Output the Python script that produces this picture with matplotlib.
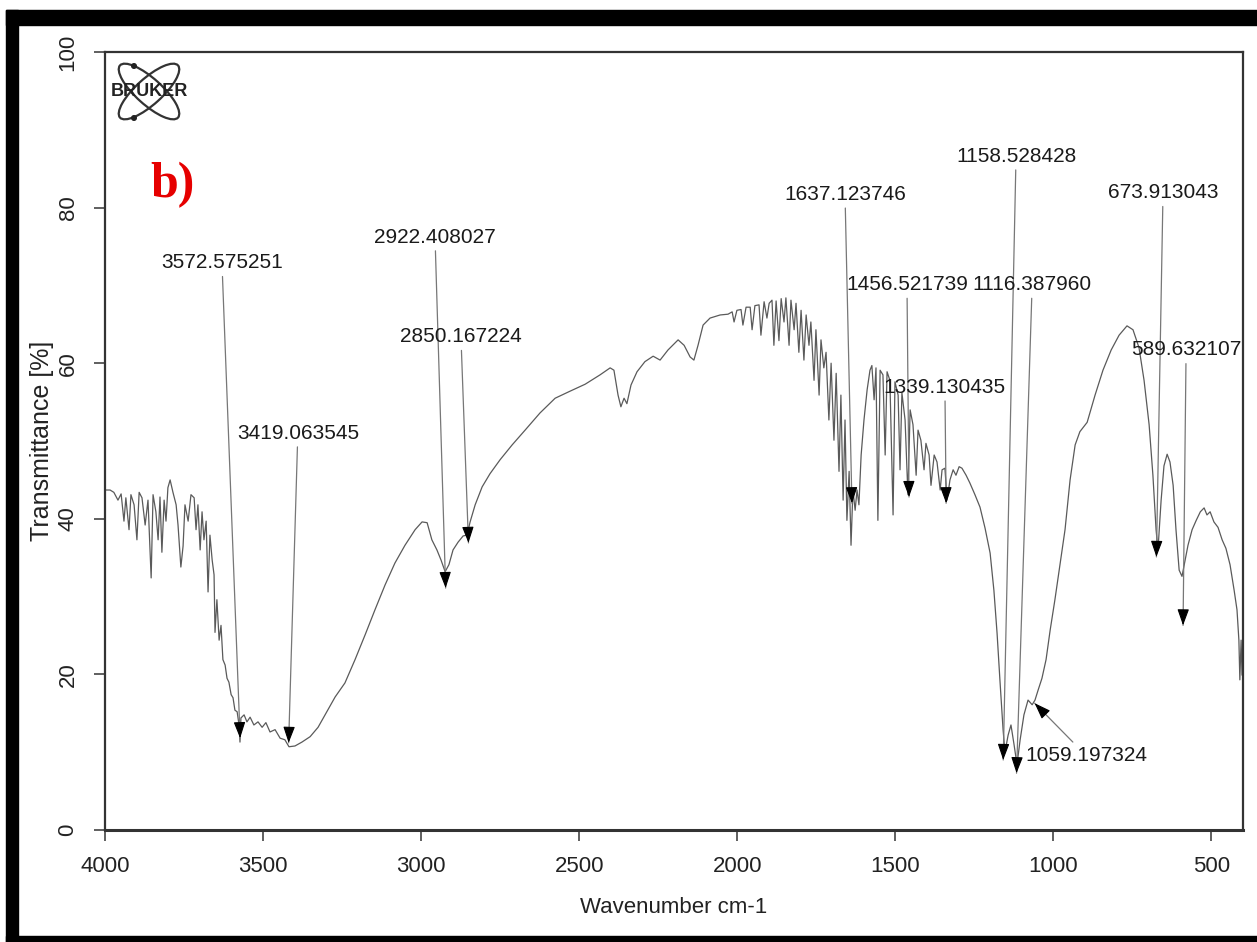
import matplotlib.pyplot as plt
from matplotlib.patches import Rectangle, Ellipse, Circle
import numpy as np

plt.rcParams['font.family'] = ['Liberation Sans', 'DejaVu Sans']

# FTIR spectrum (wavenumber cm-1, transmittance %)
wavenumber = [
    4000, 3984, 3972, 3959, 3949, 3940, 3934, 3924, 3918, 3908, 3899, 3892, 3883, 3873, 3864,
    3854, 3848, 3839, 3832, 3826, 3820, 3813, 3807, 3801, 3794, 3785, 3775, 3769, 3760, 3753,
    3747, 3737, 3728, 3718, 3712, 3706, 3699, 3693, 3687, 3680, 3674, 3668, 3661, 3655, 3652,
    3646, 3639, 3633, 3627, 3620, 3614, 3608, 3601, 3595, 3589, 3582, 3576, 3573, 3570, 3560,
    3551, 3541, 3529, 3516, 3503, 3491, 3478, 3462, 3446, 3431, 3418, 3399, 3377, 3351, 3326,
    3301, 3272, 3241, 3209, 3177, 3146, 3114, 3083, 3051, 3019, 2997, 2981, 2966, 2950, 2937,
    2924, 2912, 2899, 2883, 2867, 2855, 2845, 2829, 2807, 2782, 2750, 2712, 2671, 2624, 2576,
    2529, 2481, 2434, 2402, 2390, 2377, 2368, 2358, 2349, 2336, 2317, 2292, 2266, 2244, 2219,
    2187, 2168, 2149, 2137, 2124, 2108, 2086, 2054, 2029, 2016, 2010, 2001, 1988, 1982, 1972,
    1959, 1953, 1944, 1931, 1925, 1915, 1906, 1899, 1890, 1884, 1877, 1868, 1861, 1852, 1846,
    1836, 1830, 1820, 1814, 1805, 1798, 1789, 1782, 1773, 1767, 1757, 1751, 1741, 1735, 1726,
    1719, 1710, 1703, 1694, 1687, 1678, 1672, 1665, 1659, 1653, 1646, 1640, 1634, 1627, 1621,
    1615, 1608, 1599, 1589, 1580, 1574, 1567, 1561, 1555, 1548, 1539, 1532, 1526, 1517, 1507,
    1501, 1491, 1485, 1479, 1469, 1460, 1453, 1444, 1434, 1428, 1419, 1409, 1403, 1393, 1387,
    1377, 1368, 1358, 1352, 1343, 1336, 1327, 1317, 1308, 1298, 1289, 1276, 1264, 1248, 1232,
    1216, 1200, 1188, 1178, 1169, 1159, 1153, 1143, 1134, 1124, 1115, 1105, 1093, 1080, 1067,
    1058, 1048, 1036, 1023, 1010, 995, 979, 963, 947, 931, 916, 893, 868, 843, 817,
    792, 767, 748, 729, 713, 697, 685, 675, 669, 659, 650, 640, 631, 621, 612,
    602, 593, 583, 574, 561, 548, 535, 523, 514, 504, 492, 479, 466, 454, 441,
    428, 419, 413, 410, 406, 403, 400,
]
transmittance = [
    43.7, 43.7, 43.4, 42.4, 43.2, 39.7, 42.7, 38.6, 43.1, 41.8, 37.3, 43.4, 42.7, 39.2, 42.4,
    32.4, 43.1, 40.9, 37.3, 42.8, 35.7, 42.4, 39.7, 44.0, 45.0, 43.4, 41.8, 39.2, 33.8, 36.5,
    41.8, 39.7, 43.1, 42.7, 38.6, 41.8, 36.0, 40.9, 37.3, 39.7, 30.6, 37.9, 34.7, 32.8, 25.4,
    29.6, 24.4, 26.3, 21.9, 21.2, 19.5, 19.0, 17.4, 17.0, 15.4, 15.2, 13.5, 11.3, 14.4, 14.8,
    13.9, 14.5, 13.5, 13.9, 13.2, 13.8, 12.6, 12.9, 11.8, 11.6, 10.7, 10.8, 11.3, 12.0, 13.2,
    15.0, 17.1, 18.9, 21.9, 25.1, 28.3, 31.5, 34.3, 36.6, 38.6, 39.6, 39.5, 37.3, 36.0, 34.7,
    33.2, 34.1, 36.0, 37.0, 37.8, 37.9, 39.6, 41.8, 44.1, 45.8, 47.6, 49.5, 51.4, 53.6, 55.5,
    56.4, 57.3, 58.5, 59.4, 59.1, 55.9, 54.4, 55.5, 54.8, 57.2, 58.9, 60.2, 60.9, 60.4, 61.7,
    63.0, 62.3, 60.8, 60.4, 62.3, 64.9, 65.8, 66.2, 66.3, 66.6, 65.3, 66.8, 66.9, 64.9, 67.2,
    67.2, 64.3, 67.4, 67.5, 63.6, 67.9, 65.8, 67.7, 68.1, 62.3, 68.0, 62.9, 68.3, 65.3, 68.4,
    62.3, 68.1, 64.3, 67.7, 61.4, 66.8, 60.4, 66.2, 62.3, 65.3, 57.8, 64.3, 55.9, 63.0, 59.4,
    61.4, 52.7, 60.0, 50.1, 58.7, 46.1, 55.9, 42.4, 52.7, 39.8, 46.1, 36.6, 43.7, 41.1, 43.7,
    41.8, 48.2, 52.7, 56.6, 59.1, 59.7, 55.3, 59.4, 39.8, 59.1, 58.5, 48.2, 58.9, 57.8, 40.5,
    57.6, 55.9, 46.3, 56.2, 52.7, 43.1, 54.0, 52.1, 45.6, 51.4, 50.1, 46.3, 49.7, 48.2, 44.3,
    48.2, 47.3, 43.7, 46.3, 46.5, 42.4, 45.0, 46.3, 45.6, 46.7, 46.5, 45.6, 44.6, 43.1, 41.5,
    38.8, 35.6, 30.8, 25.3, 19.3, 12.9, 10.0, 12.2, 13.5, 10.9, 8.4, 11.6, 14.8, 16.7, 16.1,
    16.7, 18.0, 19.5, 21.9, 25.7, 29.6, 34.1, 38.6, 45.0, 49.5, 51.2, 52.4, 55.9, 59.1, 61.7,
    63.6, 64.8, 64.3, 62.0, 57.8, 52.1, 45.6, 38.6, 36.0, 42.4, 46.8, 48.3, 47.3, 44.3, 38.6,
    33.4, 32.6, 34.7, 36.6, 38.6, 39.8, 40.9, 41.4, 40.5, 40.9, 39.6, 38.9, 37.3, 36.2, 34.1,
    30.8, 28.3, 24.4, 19.3, 24.4, 19.9, 25.7,
]

peak_labels = ['3572.575251', '3419.063545', '2922.408027', '2850.167224',
               '1637.123746', '1456.521739', '1339.130435', '1158.528428',
               '1116.387960', '1059.197324', '673.913043', '589.632107']
peak_tip = [11.8, 11.2, 31.1, 36.9, 42.0, 42.8, 42.0, 9.0, 7.3, 16.3, 35.1, 26.3]
label_x = [3630, 3390, 2956, 2874, 1659, 1463, 1343, 1118, 1067, 897, 653, 580]
label_y = [72.9, 51.0, 76.2, 63.4, 81.7, 70.1, 56.9, 86.6, 70.1, 9.6, 81.9, 61.7]

W, H = 1257, 942
fig = plt.figure(figsize=(W / 100, H / 100), dpi=100)
fig.patch.set_facecolor('white')

# plot frame in figure pixels
x0, x1, y_top, y_bot = 105, 1243, 52, 830
ax = fig.add_axes([x0 / W, 1 - y_bot / H, (x1 - x0) / W, (y_bot - y_top) / H])

ax.plot(wavenumber, transmittance, color='#5a5a5a', lw=0.9)
ax.set_xlim(4000, 400)
ax.set_ylim(0, 100)
ax.set_xticks([4000, 3500, 3000, 2500, 2000, 1500, 1000, 500])
ax.set_yticks([0, 20, 40, 60, 80, 100])

for s in ax.spines.values():
    s.set_color('#333333')
    s.set_linewidth(1.6)
ax.spines['bottom'].set_linewidth(2.2)

ax.tick_params(direction='out', length=8, width=1.2, labelsize=16,
               color='#444444', labelcolor='#222222', pad=11)
ax.tick_params(axis='y', labelrotation=90)
plt.setp(ax.get_yticklabels(), va='center')

ax.set_xlabel('Wavenumber cm-1', fontsize=16, color='#222222')
ax.xaxis.set_label_coords(0.5, -(897 - y_bot) / (y_bot - y_top))
ax.set_ylabel('Transmittance [%]', fontsize=18, color='#222222')
ax.yaxis.set_label_coords((54 - x0) / (x1 - x0), 0.5)

# peak annotations: thin grey leader + black arrow head
for lab, tip, tx, ty in zip(peak_labels, peak_tip, label_x, label_y):
    px = float(lab)
    ax.annotate(lab, xy=(px, tip), xytext=(tx, ty), ha='center', va='center',
                fontsize=15, color='#1a1a1a',
                arrowprops=dict(arrowstyle='-', color='#777777', lw=0.9,
                                shrinkA=1, shrinkB=0))
    p_tip = ax.transData.transform((px, tip))
    p_txt = ax.transData.transform((tx, ty))
    d = p_txt - p_tip
    d = d / np.hypot(*d) * 14
    ax.annotate('', xy=(px, tip), xytext=(d[0], d[1]), textcoords='offset pixels',
                arrowprops=dict(arrowstyle='-|>,head_length=1.0,head_width=0.36',
                                color='black', lw=0.8, shrinkA=0, shrinkB=0,
                                mutation_scale=10))

# panel letter
fig.text(150 / W, 1 - 197 / H, 'b)', ha='left', va='baseline', fontsize=36,
         family=['Liberation Serif', 'DejaVu Serif'], weight='bold', color='#e60000')

# Bruker logo
lax = fig.add_axes([107 / W, 1 - 125 / H, 85 / W, 65 / H])
lax.set_xlim(0, 85)
lax.set_ylim(0, 65)
lax.axis('off')
for ang in (42, -42):
    lax.add_patch(Ellipse((42, 33.5), 78, 26, angle=ang, fill=False,
                          ec='#333333', lw=1.6))
lax.add_patch(Circle((27, 59), 2.3, color='#222222'))
lax.add_patch(Circle((27, 7), 2.3, color='#222222'))
lax.text(42.5, 33, 'BRUKER', ha='center', va='center', fontsize=13,
         weight='bold', color='#222222')

# thick black photo border
fig.add_artist(Rectangle((6 / W, 0), 12 / W, 1 - 10 / H, transform=fig.transFigure,
                         color='black', zorder=10))
fig.add_artist(Rectangle((6 / W, 1 - 25 / H), 1, 15 / H, transform=fig.transFigure,
                         color='black', zorder=10))
fig.add_artist(Rectangle((6 / W, 0), 1, 6 / H, transform=fig.transFigure,
                         color='black', zorder=10))

fig.savefig('out.png', dpi=100)
